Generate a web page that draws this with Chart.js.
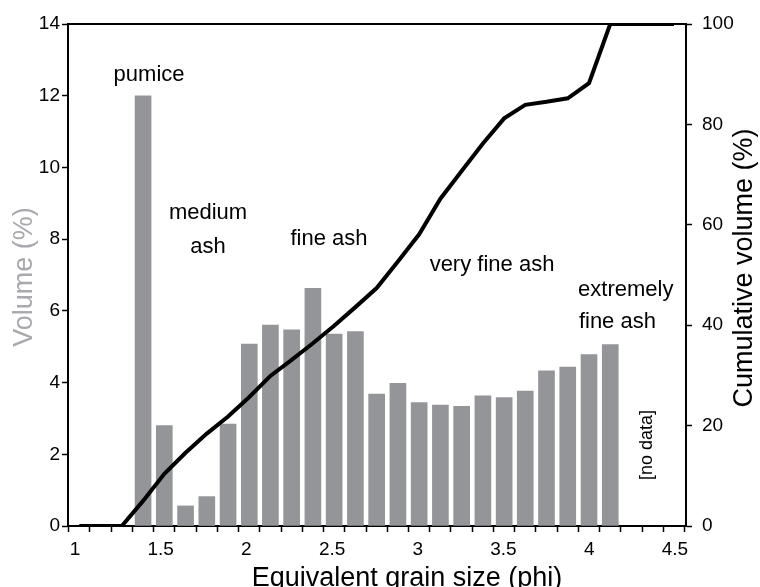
<!DOCTYPE html>
<html>
<head>
<meta charset="utf-8">
<script src="https://cdn.jsdelivr.net/npm/chart.js@4.4.1/dist/chart.umd.min.js"></script>
<style>
  html, body { margin: 0; padding: 0; background: #fff; }
  #wrap { width: 760px; height: 587px; }
</style>
</head>
<body>
<div id="wrap"><canvas id="chart" width="760" height="587"></canvas></div>
<script>
// bin centres (phi) of the volume histogram
const binCenters = [1.397, 1.521, 1.645, 1.769, 1.893, 2.017, 2.140, 2.264, 2.388, 2.512, 2.636, 2.760,
  2.884, 3.008, 3.132, 3.256, 3.380, 3.504, 3.627, 3.751, 3.875, 3.999, 4.123];
const volume = [12.0, 2.80, 0.56, 0.82, 2.84, 5.07, 5.60, 5.47, 6.63, 5.35, 5.42, 3.68,
  3.98, 3.44, 3.37, 3.34, 3.63, 3.58, 3.76, 4.33, 4.43, 4.78, 5.06];

// cumulative curve
const cumX = [1.025, 1.149, 1.273, 1.397, 1.521, 1.645, 1.769, 1.893, 2.017, 2.140, 2.264, 2.388, 2.512,
  2.636, 2.760, 2.884, 3.008, 3.132, 3.256, 3.380, 3.504, 3.627, 3.751, 3.875, 3.999, 4.123, 4.247, 4.371, 4.495];
const cumVolume = [0, 0, 0, 5.0, 10.4, 14.6, 18.4, 21.8, 25.7, 29.9, 33.1, 36.4, 39.9,
  43.6, 47.4, 52.7, 58.1, 65.2, 70.7, 76.2, 81.2, 83.9, 84.5, 85.2, 88.2, 100, 100, 100, 100];

// axes
const xLabels = [1, 1.5, 2, 2.5, 3, 3.5, 4, 4.5];
const xMin = 0.959, xMax = 4.565;
const binEdges0 = 0.9633, binStep = 0.1239, nEdges = 30;

const FONT = 'Liberation Sans, Arial, Helvetica, sans-serif';

// text labels on the plot (phi, volume %)
const notes = [
  { text: 'pumice', x: 1.432, y: 12.58 },
  { text: 'medium', x: 1.776, y: 8.73 },
  { text: 'ash', x: 1.776, y: 7.78 },
  { text: 'fine ash', x: 2.482, y: 8.0 },
  { text: 'very fine ash', x: 3.433, y: 7.28 },
  { text: 'extremely', x: 3.935, y: 6.58, align: 'left' },
  { text: 'fine ash', x: 3.94, y: 5.69, align: 'left' }
];

const extras = {
  id: 'extras',
  afterDraw(chart) {
    const c = chart.ctx;
    const a = chart.chartArea;
    const xs = chart.scales.x, ys = chart.scales.y;
    c.save();
    // top frame line
    c.strokeStyle = '#000';
    c.lineWidth = 2;
    c.beginPath();
    c.moveTo(a.left - 1, a.top);
    c.lineTo(a.right + 1, a.top);
    c.stroke();

    c.fillStyle = '#000';
    c.font = '22px ' + FONT;
    c.textBaseline = 'middle';
    notes.forEach(n => {
      c.textAlign = n.align || 'center';
      c.fillText(n.text, xs.getPixelForValue(n.x), ys.getPixelForValue(n.y));
    });

    // [no data]
    c.save();
    c.translate(xs.getPixelForValue(4.337), ys.getPixelForValue(2.26));
    c.rotate(-Math.PI / 2);
    c.textAlign = 'center';
    c.font = '18px ' + FONT;
    c.fillText('[no data]', 0, 0);
    c.restore();

    // axis titles
    c.save();
    c.translate(25, (a.top + a.bottom) / 2 + 2);
    c.rotate(-Math.PI / 2);
    c.textAlign = 'center';
    c.fillStyle = '#a7a9ac';
    c.font = '27px ' + FONT;
    c.fillText('Volume (%)', 0, 0);
    c.restore();

    c.save();
    c.translate(745, 268);
    c.rotate(-Math.PI / 2);
    c.textAlign = 'center';
    c.font = '27px ' + FONT;
    c.fillText('Cumulative volume (%)', 0, 0);
    c.restore();

    c.textAlign = 'center';
    c.textBaseline = 'alphabetic';
    c.font = '27px ' + FONT;
    c.fillText('Equivalent grain size (phi)', 407, 586);
    c.restore();
  }
};

const labelSet = new Set(xLabels);

new Chart(document.getElementById('chart'), {
  type: 'bar',
  data: {
    datasets: [
      {
        type: 'line',
        data: cumX.map((x, i) => ({ x: x, y: cumVolume[i] })),
        yAxisID: 'y2',
        borderColor: '#000',
        borderWidth: 4,
        pointRadius: 0,
        tension: 0,
        fill: false,
        order: 0
      },
      {
        type: 'bar',
        data: binCenters.map((x, i) => ({ x: x, y: volume[i] })),
        yAxisID: 'y',
        backgroundColor: '#939598',
        borderWidth: 0,
        barThickness: 16,
        order: 1
      }
    ]
  },
  options: {
    responsive: false,
    animation: false,
    layout: { padding: { top: 24, left: 0, right: 0, bottom: 0 } },
    plugins: { legend: { display: false }, tooltip: { enabled: false } },
    scales: {
      x: {
        type: 'linear',
        offset: false,
        min: xMin,
        max: xMax,
        afterFit(s) { s.height = 61; },
        afterBuildTicks(s) {
          const t = xLabels.map(v => ({ value: v }));
          for (let i = 0; i < nEdges; i++) t.push({ value: binEdges0 + i * binStep });
          t.sort((p, q) => p.value - q.value);
          s.ticks = t;
        },
        border: { color: '#000', width: 2 },
        grid: {
          offset: false,
          drawOnChartArea: false,
          tickLength: 6,
          tickWidth: 1.5,
          tickColor: ctx => (ctx.tick && labelSet.has(ctx.tick.value)) ? 'rgba(0,0,0,0)' : '#000'
        },
        ticks: {
          autoSkip: false,
          maxRotation: 0,
          padding: 6,
          color: '#000',
          font: { size: 19, family: FONT },
          callback: v => labelSet.has(v) ? String(v) : ''
        }
      },
      y: {
        position: 'left',
        min: 0,
        max: 14,
        afterFit(s) { s.width = 68; },
        border: { color: '#000', width: 2 },
        grid: { drawOnChartArea: false, tickLength: 6, tickWidth: 1.5, tickColor: '#000' },
        ticks: { stepSize: 2, padding: 2, color: '#000', font: { size: 19, family: FONT } }
      },
      y2: {
        position: 'right',
        min: 0,
        max: 100,
        afterFit(s) { s.width = 74; },
        border: { color: '#000', width: 2 },
        grid: { drawOnChartArea: false, tickLength: 6, tickWidth: 1.5, tickColor: '#000' },
        ticks: { stepSize: 20, padding: 10, color: '#000', font: { size: 19, family: FONT } }
      }
    }
  },
  plugins: [extras]
});
</script>
</body>
</html>
